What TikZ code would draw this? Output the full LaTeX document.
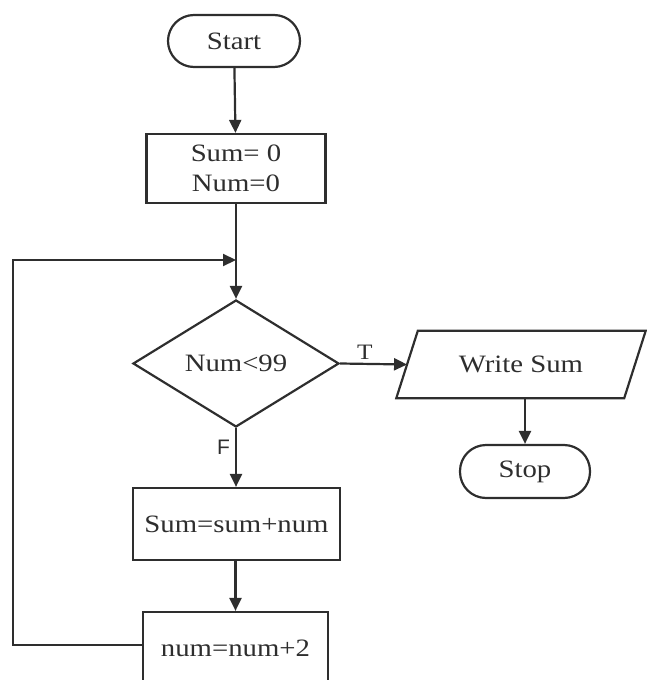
\documentclass[tikz,border=0pt]{standalone}
\usepackage{fontspec}
\setmainfont{Liberation Serif}[FakeStretch=1.15]
\newfontfamily\labfont{Liberation Sans}
\usetikzlibrary{arrows.meta,shapes.geometric}
\definecolor{ink}{HTML}{2E2E2E}
\begin{document}
\begin{tikzpicture}[x=1pt,y=-1pt,
  every node/.style={text=ink,font=\fontsize{25}{30}\selectfont},
  flow/.style={draw=ink,line width=2.2pt,-{Triangle[length=13pt,width=12pt]}},
  plain/.style={draw=ink,line width=2.2pt},
  term/.style={draw=ink,line width=2.2pt,rounded corners=26pt,inner sep=0pt,align=center},
  proc/.style={draw=ink,line width=2.2pt,inner sep=0pt,align=center},
  dec/.style={draw=ink,line width=2.2pt,diamond,inner sep=0pt,minimum width=206pt,minimum height=127pt},
  lab/.style={font=\labfont\fontsize{21}{24}\selectfont,inner sep=0pt},
  labs/.style={font=\fontsize{22}{24}\selectfont,inner sep=0pt}
]
\useasboundingbox (0,0) rectangle (647,680);
\node[term,minimum width=132pt,minimum height=52pt] (start) at (234,41) {Start};
\node[proc,minimum width=179pt,minimum height=69pt] (init) at (236,168.5) {Sum= 0\\Num=0};
\node[dec] (dec) at (236,363.5) {Num<99};
\node[inner sep=0pt,minimum width=227.5pt,minimum height=67pt] (ws) at (521,364.5) {Write Sum};
\draw[plain,line join=miter] ([xshift=10.75pt]ws.north west) -- ([xshift=10.75pt]ws.north east)
   -- ([xshift=-10.75pt]ws.south east) -- ([xshift=-10.75pt]ws.south west) -- cycle;
\node[term,minimum width=130pt,minimum height=53pt] (stop) at (525,471.5) {Stop};
\node[proc,minimum width=207pt,minimum height=72pt] (add) at (236.5,524) {Sum=sum+num};
\node[proc,minimum width=185pt,minimum height=72pt] (inc) at (235.5,648) {num=num+2};
\coordinate (lc) at (13,260);
\coordinate (j) at (236,260);
\draw[flow] (start) -- (init);
\draw[flow] (init) -- (dec);
\draw[flow] (dec.east) -- node[labs,above=3pt,pos=0.37] (t) {T} (ws.west);
\draw[flow] (stop.north |- ws.south) -- (stop.north);
\draw[flow] (dec.south) -- node[lab,left=5pt,pos=0.33] (f) {F} (add.north -| dec.south);
\draw[flow] (add.south -| inc.north) -- (inc.north);
\draw[flow] ([yshift=3pt]inc.west) -| (lc) -- (j);
\end{tikzpicture}
\end{document}
